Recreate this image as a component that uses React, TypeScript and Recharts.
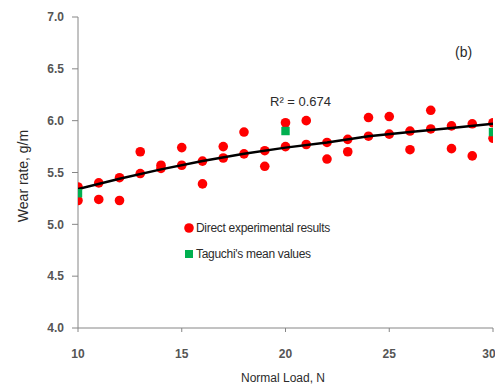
import React from "react";
import {
  ComposedChart,
  Scatter,
  XAxis,
  YAxis,
} from "recharts";

// Direct experimental results (normal load N, wear rate g/m)
const expLoads = [
  10, 10, 11, 11, 12, 12, 13, 13, 14, 14, 15, 15, 16, 16, 17, 17, 18, 18, 19, 19,
  20, 20, 21, 21, 22, 22, 23, 23, 24, 24, 25, 25, 26, 26, 27, 27, 28, 28, 29, 29, 30, 30,
];
const expWear = [
  5.36, 5.23, 5.40, 5.24, 5.45, 5.23, 5.70, 5.49, 5.57, 5.54, 5.74, 5.57, 5.61, 5.39, 5.75, 5.64, 5.89, 5.68, 5.71, 5.56,
  5.98, 5.75, 6.0, 5.77, 5.79, 5.63, 5.82, 5.70, 6.03, 5.85, 6.04, 5.87, 5.90, 5.72, 6.10, 5.92, 5.95, 5.73, 5.97, 5.66, 5.98, 5.83,
];

// Taguchi's mean values
const taguchiLoads = [10, 20, 30];
const taguchiWear = [5.30, 5.90, 5.89];

// Trend line
const trendLoads = [10, 12, 14, 16, 18, 20, 22, 24, 26, 28, 30];
const trendWear = [5.34, 5.44, 5.53, 5.61, 5.68, 5.74, 5.79, 5.85, 5.89, 5.93, 5.97];

const xTicks = [10, 15, 20, 25, 30];
const yTicks = [4.0, 4.5, 5.0, 5.5, 6.0, 6.5, 7.0];

const expData = expLoads.map((x, i) => ({ x, y: expWear[i] }));
const taguchiData = taguchiLoads.map((x, i) => ({ x, y: taguchiWear[i] }));
const trendData = trendLoads.map((x, i) => ({ x, y: trendWear[i] }));

const textColor = "#2b2b2b";
const tickColor = "#555555";
const axisColor = "#868686";
const font = "Liberation Sans, Arial, sans-serif";

const RedDot = (p: any) => <circle cx={p.cx} cy={p.cy} r={4.8} fill="#ff0000" />;
const GreenSq = (p: any) => (
  <rect x={p.cx - 4.2} y={p.cy - 4.2} width={8.4} height={8.4} fill="#00b050" />
);
const NoDot = () => <g />;

export default function App() {
  return (
    <div style={{ position: "absolute", left: 0, top: 0, width: 495, height: 387, background: "#fff" }}>
      <ComposedChart
        width={495}
        height={387}
        margin={{ top: 17, right: 2, bottom: 0, left: 0 }}
      >
        <XAxis
          dataKey="x"
          type="number"
          domain={[10, 30]}
          ticks={xTicks}
          allowDataOverflow
          stroke={axisColor}
          tickSize={4}
          tickMargin={17}
          height={59}
          tick={{ fill: tickColor, fontSize: 12, fontWeight: "bold", fontFamily: font }}
        />
        <XAxis xAxisId="top" orientation="top" dataKey="x" type="number" domain={[10, 30]} tick={false} tickLine={false} height={0} stroke="#595959" />
        <YAxis
          type="number"
          domain={[4, 7]}
          ticks={yTicks}
          allowDataOverflow
          stroke={axisColor}
          width={78}
          tickSize={6}
          tickMargin={8}
          tickFormatter={(v: number) => v.toFixed(1)}
          tick={{ fill: tickColor, fontSize: 12, fontWeight: "bold", fontFamily: font }}
        />
        <YAxis yAxisId="right" orientation="right" type="number" domain={[4, 7]} tick={false} tickLine={false} width={0} stroke="#595959" />
        <Scatter
          name="Direct experimental results"
          data={expData}
          dataKey="y"
          shape={RedDot}
          isAnimationActive={false}
        />
        <Scatter
          name="Trend"
          data={trendData}
          dataKey="y"
          shape={NoDot}
          line={{ stroke: "#000000", strokeWidth: 2.5 }}
          lineType="joint"
          legendType="none"
          isAnimationActive={false}
        />
        <Scatter
          name="Taguchi's mean values"
          data={taguchiData}
          dataKey="y"
          shape={GreenSq}
          isAnimationActive={false}
        />
      </ComposedChart>
      <svg
        width={495}
        height={387}
        style={{ position: "absolute", left: 0, top: 0, pointerEvents: "none" }}
        fontFamily={font}
      >
        <text x={23} y={176} transform="rotate(-90 23 176)" textAnchor="middle" dominantBaseline="central" fontSize={14} fill={textColor}>
          Wear rate, g/m
        </text>
        <text x={283} y={378} textAnchor="middle" dominantBaseline="central" fontSize={12} fill={textColor}>
          Normal Load, N
        </text>
        <text x={270} y={101} dominantBaseline="central" fontSize={13} fill={textColor}>
          R² = 0.674
        </text>
        <text x={455} y={52} dominantBaseline="central" fontSize={14} fill={textColor}>
          (b)
        </text>
        <circle cx={189} cy={228} r={4.8} fill="#ff0000" />
        <text x={196} y={228} dominantBaseline="central" fontSize={12} fill={textColor} letterSpacing={-0.3}>
          Direct experimental results
        </text>
        <rect x={185} y={250} width={8} height={8} fill="#00b050" />
        <text x={196} y={254} dominantBaseline="central" fontSize={12} fill={textColor} letterSpacing={-0.3}>
          Taguchi's mean values
        </text>
      </svg>
    </div>
  );
}
